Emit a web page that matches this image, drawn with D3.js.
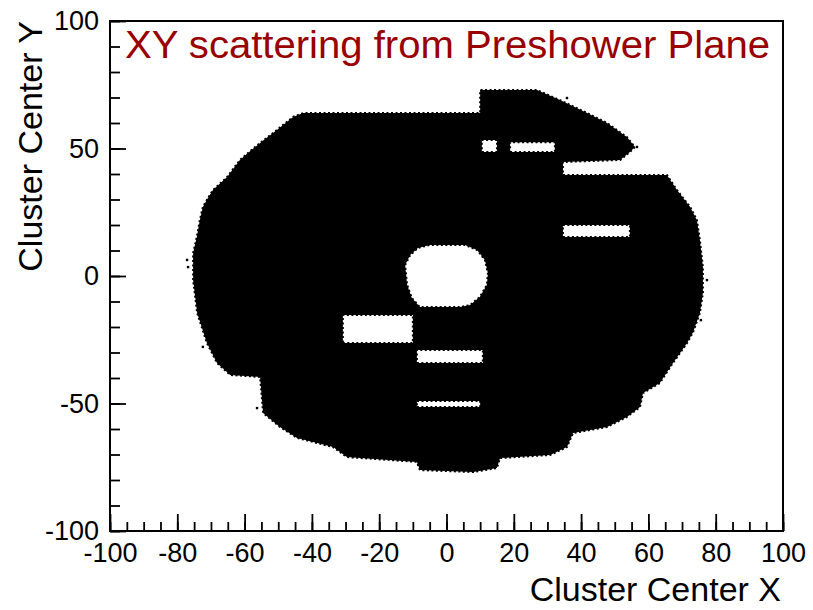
<!DOCTYPE html>
<html>
<head>
<meta charset="utf-8">
<script src="https://cdn.jsdelivr.net/npm/d3@7"></script>
<style>
  body { margin: 0; background: #fff; }
  svg { display: block; }
</style>
</head>
<body>
<svg id="chart" width="813" height="610"></svg>
<script>
// Outer edge of the occupied region of cluster centres, [x, y] in cm
const outerEdge = [
  [-75.3, -1.6], [-75.3, 9.0], [-74.2, 15.3], [-73.3, 22.0], [-72.4, 27.1],
  [-70.9, 30.6], [-69.4, 33.7], [-65.2, 38.8], [-61.4, 45.5], [-58.3, 49.0],
  [-55.4, 52.2], [-50.4, 57.3], [-45.6, 62.4], [-42.6, 63.9], [10.0, 63.9],
  [10.0, 72.9], [26.9, 72.9], [33.7, 69.0], [41.8, 63.9], [47.7, 60.0],
  [53.6, 54.5], [56.0, 50.6], [54.5, 48.6], [51.6, 45.5], [34.6, 44.7],
  [34.6, 39.6], [65.5, 39.6], [68.5, 33.7], [72.4, 27.1], [74.4, 22.0],
  [75.3, 14.1], [76.2, 3.5], [76.2, -6.7], [75.3, -14.5], [73.3, -22.0],
  [71.5, -26.3], [67.3, -34.1], [63.4, -42.0], [58.4, -45.9], [57.5, -51.4],
  [53.6, -55.3], [47.7, -59.2], [37.6, -61.6], [35.8, -67.1], [30.8, -70.2],
  [15.9, -71.4], [15.0, -75.3], [7.9, -76.9], [-7.9, -76.1], [-8.8, -72.9],
  [-29.6, -71.0], [-33.7, -67.1], [-44.4, -63.5], [-49.5, -59.2], [-54.5, -53.7],
  [-55.4, -39.6], [-64.3, -38.8], [-68.2, -34.1], [-71.2, -26.3], [-74.1, -14.5]
];

// Beam hole in the middle of the plane
const centralHole = [
  [-12.3, 4.3], [-10.8, 8.2], [-8.5, 11.0], [-4.9, 12.2], [5.5, 12.2],
  [9.1, 10.2], [11.4, 6.3], [12.3, 1.2], [12.0, -3.5], [9.9, -8.2],
  [7.0, -11.4], [4.0, -12.2], [-7.9, -12.2], [-10.3, -8.6], [-11.7, -3.5]
];

// Dead rows / gaps without hits: [x0, x1, y0, y1]
const deadGaps = [
  [-30.8, -10.0, -26.3, -15.3],
  [-8.8, 10.8, -34.1, -29.0],
  [-8.8, 10.0, -51.4, -49.0],
  [18.9, 32.2, 48.6, 52.5],
  [10.5, 15.0, 48.6, 53.3],
  [34.6, 54.5, 15.3, 20.0]
];

// Isolated hits just outside the edge
const strayHits = [
  [-76.8, 3.5], [-77.1, 6.3], [-72.4, -27.8], [-56.3, -51.8],
  [56.6, 50.6], [35.8, 69.8], [77.4, -1.6], [75.6, -17.3]
];

const xMajorTicks = [-100, -80, -60, -40, -20, 0, 20, 40, 60, 80, 100];
const yMajorTicks = [-100, -50, 0, 50, 100];
const xMinorStep = 5, yMinorStep = 10;

const frame = { left: 110, right: 783, top: 21, bottom: 531 };
const svg = d3.select("#chart");
const fontFamily = "'Liberation Sans', Arial, Helvetica, sans-serif";

const x = d3.scaleLinear().domain([-100, 100]).range([frame.left, frame.right]);
const y = d3.scaleLinear().domain([-100, 100]).range([frame.bottom, frame.top]);

const line = d3.line().x(d => x(d[0])).y(d => y(d[1]));
const rectPoly = g => [[g[0], g[2]], [g[1], g[2]], [g[1], g[3]], [g[0], g[3]]];

// Filled hit region with the holes cut out (even-odd)
let d = line(outerEdge) + "Z" + line(centralHole) + "Z";
deadGaps.forEach(g => { d += line(rectPoly(g)) + "Z"; });

svg.append("path")
  .attr("d", d)
  .attr("fill", "#000")
  .attr("fill-rule", "evenodd");

// Ragged, pixelated rim of the hit region
svg.append("path")
  .attr("d", d)
  .attr("fill", "none")
  .attr("stroke", "#000")
  .attr("stroke-width", 2)
  .attr("stroke-dasharray", "2 2.5");

svg.append("g").selectAll("rect")
  .data(strayHits)
  .join("rect")
  .attr("x", p => x(p[0]) - 1.2)
  .attr("y", p => y(p[1]) - 1.2)
  .attr("width", 2.4)
  .attr("height", 2.4)
  .attr("fill", "#000");

// Axes: minor and major ticks drawn inward
function styleAxis(g) {
  g.select(".domain").remove();
  g.selectAll("line").attr("stroke", "#000").attr("stroke-width", 1.8);
  g.selectAll("text")
    .attr("font-family", fontFamily)
    .attr("font-size", 27)
    .attr("fill", "#000");
}

svg.append("g")
  .attr("transform", `translate(0,${frame.bottom})`)
  .call(d3.axisBottom(x).tickValues(d3.range(-100, 100.1, xMinorStep)).tickSize(-9).tickFormat(""))
  .call(styleAxis);

svg.append("g")
  .attr("transform", `translate(0,${frame.bottom})`)
  .call(d3.axisBottom(x).tickValues(xMajorTicks).tickSize(-17).tickPadding(12).tickFormat(v => String(v)))
  .call(styleAxis);

svg.append("g")
  .attr("transform", `translate(${frame.left},0)`)
  .call(d3.axisLeft(y).tickValues(d3.range(-100, 100.1, yMinorStep)).tickSize(-10).tickFormat(""))
  .call(styleAxis);

svg.append("g")
  .attr("transform", `translate(${frame.left},0)`)
  .call(d3.axisLeft(y).tickValues(yMajorTicks).tickSize(-16).tickPadding(11).tickFormat(v => String(v)))
  .call(styleAxis);

// Frame
svg.append("rect")
  .attr("x", frame.left)
  .attr("y", frame.top)
  .attr("width", frame.right - frame.left)
  .attr("height", frame.bottom - frame.top)
  .attr("fill", "none")
  .attr("stroke", "#000")
  .attr("stroke-width", 2);

// Title
svg.append("text")
  .attr("x", 125)
  .attr("y", 58)
  .attr("font-family", fontFamily)
  .attr("font-size", 38)
  .attr("fill", "#990000")
  .attr("textLength", 645)
  .attr("lengthAdjust", "spacingAndGlyphs")
  .text("XY scattering from Preshower Plane");

// Axis titles
svg.append("text")
  .attr("x", 781)
  .attr("y", 601)
  .attr("text-anchor", "end")
  .attr("font-family", fontFamily)
  .attr("font-size", 34)
  .attr("fill", "#000")
  .text("Cluster Center X");

svg.append("text")
  .attr("transform", "translate(42,21) rotate(-90)")
  .attr("text-anchor", "end")
  .attr("font-family", fontFamily)
  .attr("font-size", 34)
  .attr("fill", "#000")
  .text("Cluster Center Y");
</script>
</body>
</html>
